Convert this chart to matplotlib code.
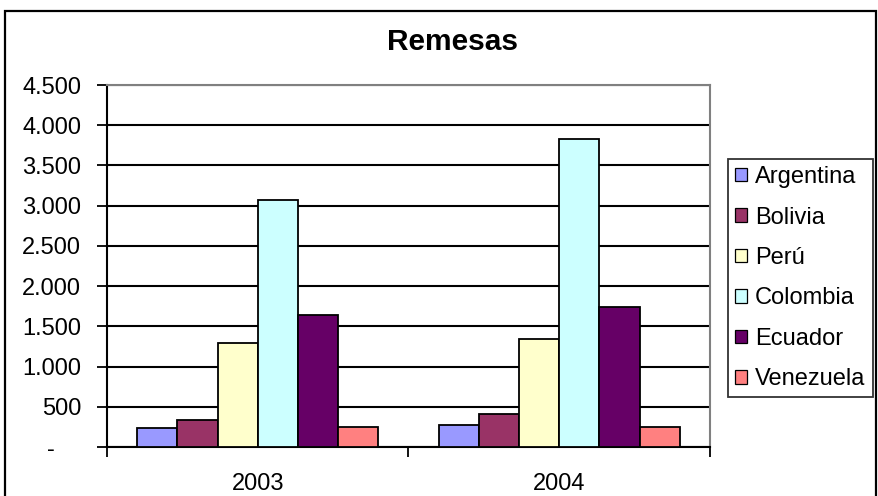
import matplotlib
matplotlib.use("Agg")
import matplotlib.pyplot as plt
from matplotlib.patches import Rectangle, Patch
from matplotlib.ticker import FuncFormatter, FixedLocator
import numpy as np

plt.rcParams['font.family'] = ['Liberation Sans', 'DejaVu Sans']

years = ["2003", "2004"]
countries = ["Argentina", "Bolivia", "Perú", "Colombia", "Ecuador", "Venezuela"]
remesas = {
    "Argentina": [230, 275],
    "Bolivia": [340, 415],
    "Perú": [1295, 1345],
    "Colombia": [3065, 3830],
    "Ecuador": [1645, 1735],
    "Venezuela": [250, 250],
}
colors = ["#9999FF", "#993366", "#FFFFCC", "#CCFFFF", "#660066", "#FF8080"]
y_ticks = list(range(0, 5000, 500))

W, H = 879, 496
fig = plt.figure(figsize=(W / 100, H / 100), dpi=100)

# chart frame
fig.add_artist(Rectangle((5 / W, -0.1), 871 / W, 1.1 - 11 / H, transform=fig.transFigure,
                         fill=False, edgecolor="black", linewidth=1.6))

left, right, top, bottom = 107, 710, 85, 447
ax = fig.add_axes([left / W, 1 - bottom / H, (right - left) / W, (bottom - top) / H])

x = np.arange(len(years))
n = len(countries)
width = 1 / (n + 1.5)
handles = []
for i, (name, col) in enumerate(zip(countries, colors)):
    ax.bar(x + (i - (n - 1) / 2) * width, remesas[name], width=width, color=col,
           edgecolor="black", linewidth=1.3, zorder=3)
    handles.append(Patch(facecolor=col, edgecolor="black", linewidth=0.9, label=name))


def thousands(v, pos):
    # accounting style: zero shown as an indented dash
    if v == 0:
        return "-\u2007\u2007"
    return f"{int(v):,}".replace(",", ".")


ax.set_xlim(-0.5, len(years) - 0.5)
ax.set_ylim(0, 4500)
ax.yaxis.set_major_locator(FixedLocator(y_ticks))
ax.yaxis.set_major_formatter(FuncFormatter(thousands))
ax.grid(axis="y", color="black", linewidth=1.5, zorder=0)

# category boundary ticks, labels centred between them
ax.set_xticks(np.arange(-0.5, len(years), 1.0))
ax.set_xticklabels([])
ax.set_xticks(x, minor=True)
ax.set_xticklabels(years, minor=True)
ax.tick_params(axis="x", which="major", length=7, width=1.3, direction="out")
ax.tick_params(axis="x", which="minor", length=0, pad=19, labelsize=17)
ax.tick_params(axis="y", length=7, width=1.3, direction="out", labelsize=17, pad=11.5)

for s in ["left", "bottom"]:
    ax.spines[s].set_color("black")
    ax.spines[s].set_linewidth(1.5)
for s in ["right", "top"]:
    ax.spines[s].set_color("#808080")
    ax.spines[s].set_linewidth(1.5)

fig.text(453 / W, 1 - 42 / H, "Remesas", ha="center", va="center",
         fontsize=21.5, fontweight="bold")

leg = fig.legend(handles=handles, loc="upper left",
                 bbox_to_anchor=(728 / W, 1 - 159 / H), fontsize=17,
                 frameon=True, fancybox=False, edgecolor="black",
                 handlelength=0.5, handleheight=0.5, handletextpad=0.35,
                 labelspacing=0.78, borderpad=0.3, borderaxespad=0)
leg.get_frame().set_linewidth(1.3)

fig.savefig("out.png", dpi=100)
